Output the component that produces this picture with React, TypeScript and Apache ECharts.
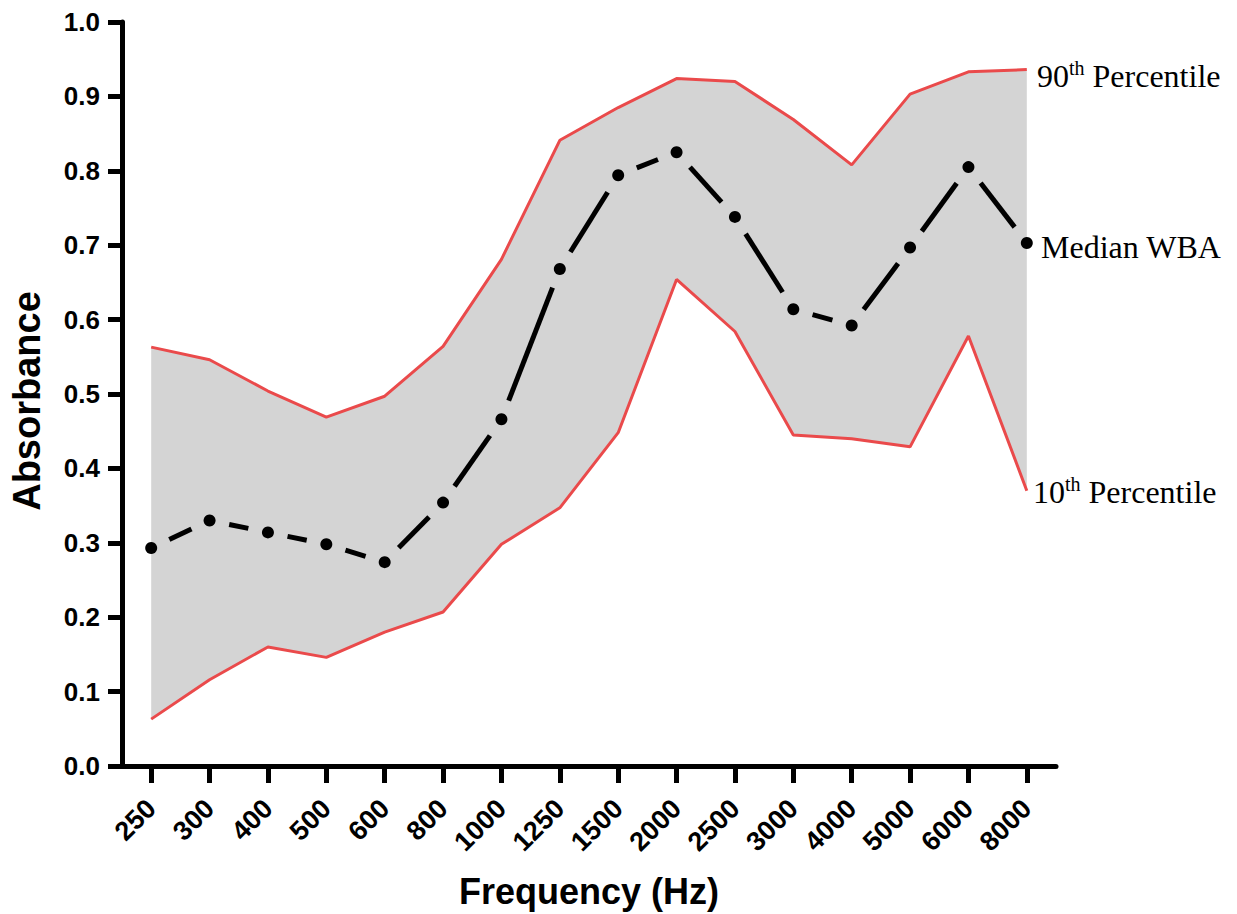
import React, { useEffect, useRef } from 'react';
import * as echarts from 'echarts';

const frequencies = ['250', '300', '400', '500', '600', '800', '1000', '1250', '1500', '2000', '2500', '3000', '4000', '5000', '6000', '8000'];
const p90 = [0.563, 0.546, 0.504, 0.469, 0.497, 0.564, 0.681, 0.841, 0.885, 0.924, 0.920, 0.869, 0.808, 0.903, 0.933, 0.936];
const median = [0.293, 0.330, 0.314, 0.298, 0.274, 0.354, 0.466, 0.668, 0.794, 0.825, 0.738, 0.614, 0.592, 0.697, 0.805, 0.703];
const p10 = [0.063, 0.116, 0.160, 0.146, 0.180, 0.207, 0.298, 0.347, 0.448, 0.654, 0.584, 0.445, 0.440, 0.429, 0.578, 0.370];

const RED = '#ea4a4b';
const GRAY = '#d4d4d4';
const SANS = '"Liberation Sans", Arial, sans-serif';
const SERIF = '"Liberation Serif", "Times New Roman", serif';

export default function App() {
  const ref = useRef<HTMLDivElement>(null);
  useEffect(() => {
    const chart = echarts.init(ref.current!, null, { renderer: 'svg' });
    const band = p90.map((v, i) => +(v - p10[i]).toFixed(3));
    const richN = { fontFamily: SERIF, fontSize: 32, lineHeight: 36, verticalAlign: 'middle', fill: '#000' };
    const richS = { fontFamily: SERIF, fontSize: 20, lineHeight: 22, verticalAlign: 'top', fill: '#000' };
    chart.setOption({
      animation: false,
      backgroundColor: '#fff',
      grid: { left: 121, right: 181, top: 22, bottom: 143, containLabel: false },
      xAxis: {
        type: 'category',
        data: frequencies,
        boundaryGap: true,
        axisLine: { show: true, lineStyle: { color: '#000', width: 5 } },
        axisTick: { show: true, alignWithLabel: true, interval: 0, length: 17, lineStyle: { color: '#000', width: 5 } },
        axisLabel: { interval: 0, rotate: 45, margin: 38, fontSize: 27, fontWeight: 'bold', color: '#000', fontFamily: SANS, padding: [0, 0, 0, 0] },
        splitLine: { show: false },
        name: 'Frequency (Hz)',
        nameLocation: 'middle',
        nameGap: 107,
        nameTextStyle: { fontSize: 36, fontWeight: 'bold', color: '#000', fontFamily: SANS },
      },
      yAxis: {
        type: 'value',
        min: 0,
        max: 1,
        interval: 0.1,
        axisLine: { show: true, lineStyle: { color: '#000', width: 5 } },
        axisTick: { show: true, length: 14, lineStyle: { color: '#000', width: 5 } },
        axisLabel: { margin: 22, fontSize: 26, fontWeight: 'bold', color: '#000', fontFamily: SANS, formatter: (v: number) => v.toFixed(1) },
        splitLine: { show: false },
        name: 'Absorbance',
        nameLocation: 'middle',
        nameRotate: 90,
        nameGap: 76,
        nameTextStyle: { fontSize: 38, fontWeight: 'bold', color: '#000', fontFamily: SANS, padding: [0, 14, 0, 0] },
      },
      series: [
        {
          name: 'base', type: 'line', data: p10, stack: 'band', symbol: 'none', silent: true,
          lineStyle: { opacity: 0 }, z: 1,
        },
        {
          name: 'band', type: 'line', data: band, stack: 'band', symbol: 'none', silent: true,
          lineStyle: { opacity: 0 }, areaStyle: { color: GRAY, opacity: 1 }, z: 1,
        },
        {
          name: '90th Percentile', type: 'line', data: p90, symbol: 'none',
          lineStyle: { color: RED, width: 3 }, z: 3,
        },
        {
          name: '10th Percentile', type: 'line', data: p10, symbol: 'none',
          lineStyle: { color: RED, width: 3 }, z: 3,
        },
        {
          name: 'Median dashes', type: 'custom', coordinateSystem: 'cartesian2d',
          data: median.map((v, i) => [i, v]),
          encode: { x: 0, y: 1 },
          z: 4,
          renderItem: (params: any, api: any) => {
            const i = params.dataIndex;
            if (i >= median.length - 1) return { type: 'group', children: [] };
            const a = api.coord([i, median[i]]);
            const b = api.coord([i + 1, median[i + 1]]);
            const dx = b[0] - a[0];
            const dy = b[1] - a[1];
            const len = Math.hypot(dx, dy);
            const ux = dx / len;
            const uy = dy / len;
            const gap = 20;
            return {
              type: 'line',
              shape: { x1: a[0] + ux * gap, y1: a[1] + uy * gap, x2: b[0] - ux * gap, y2: b[1] - uy * gap },
              style: { stroke: '#000', lineWidth: 5 },
            };
          },
        },
        {
          name: 'Median WBA', type: 'scatter', data: median, symbol: 'circle', symbolSize: 12,
          itemStyle: { color: '#000', opacity: 1 }, z: 5,
        },
      ],
      graphic: [
        {
          type: 'text', x: 1037, y: 76,
          style: { text: '{n|90}{s|th}{n| Percentile}', rich: { n: richN, s: richS }, align: 'left', verticalAlign: 'middle' },
        },
        {
          type: 'text', x: 1041, y: 247,
          style: { text: '{n|Median WBA}', rich: { n: richN }, align: 'left', verticalAlign: 'middle' },
        },
        {
          type: 'text', x: 1033, y: 492,
          style: { text: '{n|10}{s|th}{n| Percentile}', rich: { n: richN, s: richS }, align: 'left', verticalAlign: 'middle' },
        },
      ],
    });
    return () => chart.dispose();
  }, []);
  return <div ref={ref} style={{ position: 'fixed', left: 0, top: 0, width: 1237, height: 914, background: '#fff' }} />;
}
